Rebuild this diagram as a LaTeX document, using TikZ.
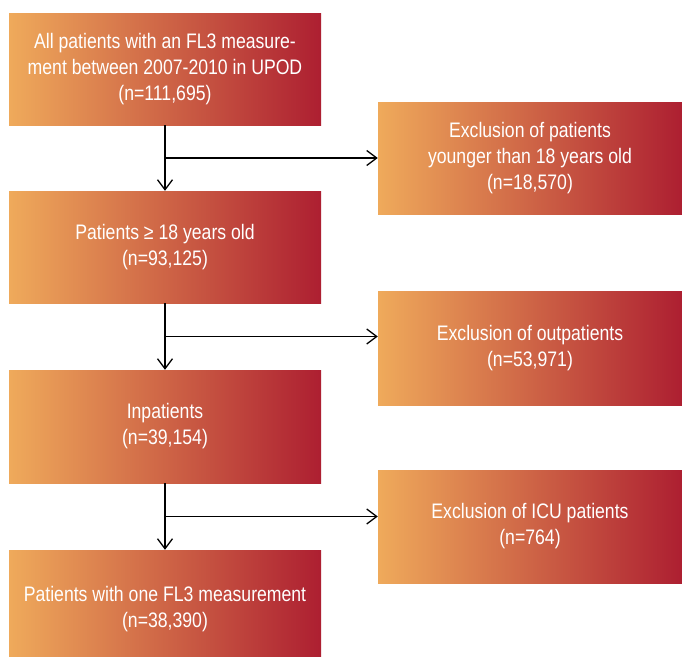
\documentclass[tikz,border=0pt]{standalone}
\usepackage{fontspec}
\setmainfont[FakeStretch=0.84]{Liberation Sans}
\usetikzlibrary{arrows.meta,calc}
\definecolor{boxL}{HTML}{EFAA5B}
\definecolor{boxR}{HTML}{AD1F31}
\begin{document}
\begin{tikzpicture}[x=1pt,y=-1pt,
  box/.style={rectangle, left color=boxL, right color=boxR, draw=none, text=white,
    font=\fontsize{21}{26}\selectfont, align=center, inner sep=0pt,
    minimum width=312pt, minimum height=112pt},
  rbox/.style={box, minimum width=304pt},
  conn/.style={line width=1.3pt, draw=black},
  arr/.style={conn, -{Straight Barb[length=10pt,width=15pt,line width=1.3pt]}}]
\useasboundingbox[fill=white] (0,0) rectangle (682,656);
\node[box] (a) at (165,69) {All patients with an FL3 measure-\\ment between 2007-2010 in UPOD\\(n=111,695)};
\node[box] (b) at (165,247) {Patients ≥ 18 years old\\(n=93,125)};
\node[box, minimum height=113pt] (c) at (165,426.5) {Inpatients\\(n=39,154)};
\node[box, minimum height=118pt] (d) at (165,609) {Patients with one FL3 measurement\\(n=38,390)};
\node[rbox] (r1) at (530,158) {Exclusion of patients\\younger than 18 years old\\(n=18,570)};
\node[rbox, minimum height=114pt] (r2) at (530,348) {Exclusion of outpatients\\(n=53,971)};
\node[rbox, minimum height=113pt] (r3) at (530,526.5) {Exclusion of ICU patients\\(n=764)};
\coordinate (m1) at ($(a.south)!0.5!(b.north)$);
\coordinate (m2) at ($(b.south)!0.5!(c.north)$);
\coordinate (m3) at ($(c.south)!0.5!(d.north)$);
\draw[arr] (a.south) -- (b.north);
\draw[arr] (b.south) -- (c.north);
\draw[arr] (c.south) -- (d.north);
\draw[arr] (m1) -- (m1 -| r1.west);
\draw[arr] (m2) -- (m2 -| r2.west);
\draw[arr] (m3) -- (m3 -| r3.west);
\end{tikzpicture}
\end{document}
